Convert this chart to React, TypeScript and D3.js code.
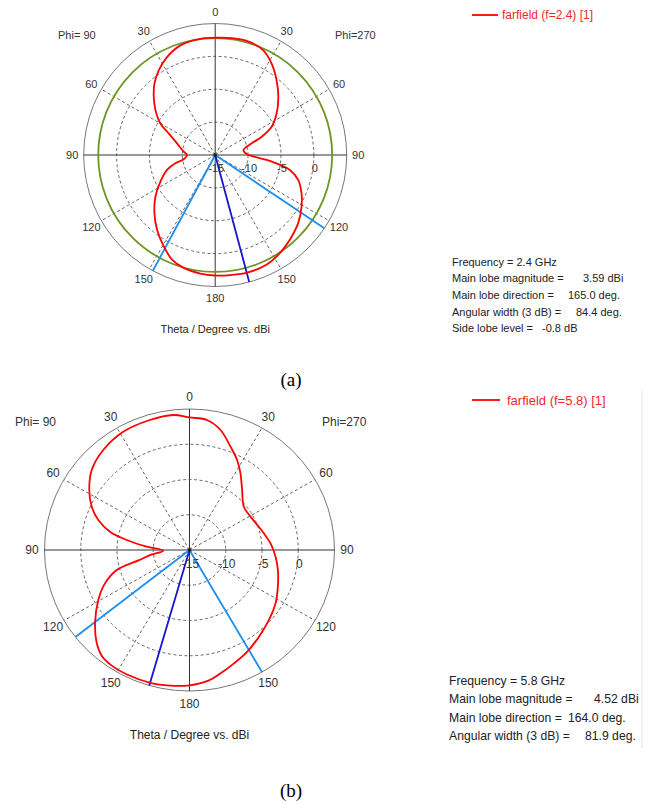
import React from "react";
import * as d3 from "d3";

const W = 655;
const H = 804;

// Polar angle in degrees, clockwise from top (0..180 = Phi=270 half, 180..360 = Phi=90 half)
// (a) farfield f = 2.4 GHz, gain in dBi
const anglesA = [0, 5.7, 15.4, 24.7, 31.7, 39.4, 47.4, 55.9, 63.4, 68.6, 72.3, 80, 88.2, 95.5, 98.7, 101.3, 106.7, 113.9, 120.8, 129.4, 138.6, 146.5, 154.8, 164.8, 172.9, 180, 187.2, 195.6, 202.4, 209.4, 217.9, 226.3, 235.2, 244.1, 252.8, 258.2, 262.2, 270, 276, 286.9, 294.9, 299.9, 306.9, 313.4, 319.6, 326.3, 333.8, 342.4, 352.7];
const gainA = [2.83, 2.91, 3.0, 2.52, 1.33, -0.29, -1.95, -3.72, -5.4, -7.4, -9.17, -10.64, -10.2, -7.14, -5.04, -3.41, -1.82, -0.64, 0.29, 1.33, 2.17, 2.86, 3.41, 3.55, 3.4, 3.33, 3.17, 2.83, 2.21, 0.94, -0.61, -2.21, -3.93, -5.74, -7.33, -8.81, -10.16, -10.71, -10.18, -8.93, -7.2, -5.38, -3.64, -2.14, -0.74, 0.48, 1.6, 2.49, 2.82];

// (b) farfield f = 5.8 GHz, gain in dBi
const anglesB = [0, 7.4, 14.0, 21.0, 27.1, 32.8, 40.4, 50.5, 60.6, 69.1, 77.0, 85.2, 94.6, 103.1, 113.2, 122.6, 132.3, 142.2, 151.2, 159.3, 166.4, 172, 180, 187.9, 196, 206, 213, 218.7, 224, 231.4, 240.6, 247.9, 254.2, 258.3, 262.6, 268.4, 274.5, 279.3, 283.3, 288.7, 294.5, 301.6, 310.1, 320, 331.4, 343.5, 353.3];
const gainB = [3.8, 3.6, 2.58, 0.74, -0.62, -2.04, -3.8, -5.3, -5.35, -5.0, -4.48, -3.78, -3.09, -2.48, -1.74, -0.92, -0.21, 0.6, 1.49, 2.23, 3.04, 3.72, 4.2, 4.42, 4.6, 4.65, 4.6, 4.3, 3.41, 1.67, -0.56, -2.42, -4.57, -7.9, -9.6, -11.38, -9.08, -6.22, -3.73, -1.72, -0.18, 1.23, 2.63, 3.51, 4.1, 4.23, 4.28];

// Radial axis (dBi)
const rMin = -15;
const rMax = 5;
const rTicks = [-15, -10, -5, 0];
const gridCircles = [-10, -5, 0];
const angleTicks = [0, 30, 60, 90, 120, 150, 180, 210, 240, 270, 300, 330];

// Main lobe / beamwidth marker directions (polar angle)
const mainDirA = 165;
const beamEdgesA = [123.9, 208.3];
const mainDirB = 196.1;
const beamEdgesB = [150, 231.9];
const sideLobeCircleA = 3.59 - 0.8;

const legendA = "farfield (f=2.4) [1]";
const legendB = "farfield (f=5.8) [1]";
const infoLabelsA = ["Frequency = 2.4 GHz", "Main lobe magnitude =", "Main lobe direction =", "Angular width (3 dB) =", "Side lobe level ="];
const infoValuesA = ["", "3.59 dBi", "165.0 deg.", "84.4 deg.", "-0.8 dB"];
const infoLabelsB = ["Frequency = 5.8 GHz", "Main lobe magnitude =", "Main lobe direction =", "Angular width (3 dB) ="];
const infoValuesB = ["", "4.52 dBi", "164.0 deg.", "81.9 deg."];

const FONT = "'Liberation Sans', Arial, sans-serif";

type PanelProps = {
  cx: number;
  cy: number;
  rx: number;
  ry: number;
  fs: number;
  labelOff: number;
  angles: number[];
  gains: number[];
  mainDir: number;
  edges: number[];
  sideLobe?: number;
  phiY: number;
  phiLeftX: number;
  phiRightX: number;
  rLabelDy: number;
  titleY: number;
};

function PolarPanel(p: PanelProps) {
  const r = d3.scaleLinear().domain([rMin, rMax]).range([0, 1]);
  const ang = d3.scaleLinear().domain([0, 360]).range([0, 2 * Math.PI]);
  const pt = (a: number, v: number): [number, number] => {
    const t = ang(a);
    const rr = r(v);
    return [p.cx + p.rx * rr * Math.sin(t), p.cy - p.ry * rr * Math.cos(t)];
  };
  const line = d3.line<[number, number]>().curve(d3.curveCatmullRomClosed.alpha(0.5));
  const pts = p.angles.map((a, i) => pt(a, p.gains[i]));
  const path = line(pts) || "";
  const outer = (a: number) => pt(a, rMax);
  const tickLabel = (a: number) => (a <= 180 ? a : 360 - a);

  return (
    <g>
      {/* dashed grid circles */}
      {gridCircles.map((v) => (
        <ellipse key={"c" + v} cx={p.cx} cy={p.cy} rx={p.rx * r(v)} ry={p.ry * r(v)} fill="none" stroke="#555" strokeWidth={0.9} strokeDasharray="3,2.5" />
      ))}
      {/* dashed spokes */}
      {angleTicks.filter((a) => a % 90 !== 0).map((a) => {
        const [x, y] = outer(a);
        return <line key={"s" + a} x1={p.cx} y1={p.cy} x2={x} y2={y} stroke="#555" strokeWidth={0.9} strokeDasharray="3,2.5" />;
      })}
      {/* outer circle */}
      <ellipse cx={p.cx} cy={p.cy} rx={p.rx} ry={p.ry} fill="none" stroke="#777" strokeWidth={1} />
      {/* axes */}
      <line x1={p.cx} y1={p.cy - p.ry} x2={p.cx} y2={p.cy + p.ry} stroke="#333" strokeWidth={1} />
      <line x1={p.cx - p.rx} y1={p.cy} x2={p.cx + p.rx} y2={p.cy} stroke="#333" strokeWidth={1} />
      {/* side lobe level circle */}
      {p.sideLobe !== undefined && (
        <ellipse cx={p.cx} cy={p.cy} rx={p.rx * r(p.sideLobe)} ry={p.ry * r(p.sideLobe)} fill="none" stroke="#6e9424" strokeWidth={1.8} />
      )}
      {/* beam edges */}
      {p.edges.map((a) => {
        const [x, y] = outer(a);
        return <line key={"e" + a} x1={p.cx} y1={p.cy} x2={x} y2={y} stroke="#1c8ff0" strokeWidth={1.8} />;
      })}
      {(() => {
        const [x, y] = outer(p.mainDir);
        return <line x1={p.cx} y1={p.cy} x2={x} y2={y} stroke="#1414d2" strokeWidth={1.8} />;
      })()}
      {/* pattern */}
      <path d={path} fill="none" stroke="#ff0000" strokeWidth={1.8} strokeLinejoin="round" />
      <circle cx={p.cx} cy={p.cy} r={1.8} fill="#222" />
      {/* angle labels */}
      {angleTicks.map((a) => {
        const t = ang(a);
        const x = p.cx + (p.rx + p.labelOff) * Math.sin(t);
        const y = p.cy - (p.ry + p.labelOff) * Math.cos(t);
        return (
          <text key={"l" + a} x={x} y={y} fontSize={p.fs} fontFamily={FONT} fill="#333" textAnchor="middle" dominantBaseline="central">
            {tickLabel(a)}
          </text>
        );
      })}
      {/* radial labels */}
      {rTicks.map((v) => (
        <text key={"r" + v} x={p.cx + p.rx * r(v) + 1} y={p.cy + p.rLabelDy} fontSize={p.fs} fontFamily={FONT} fill="#333" textAnchor="middle" dominantBaseline="central">
          {v}
        </text>
      ))}
      <text x={p.phiLeftX} y={p.phiY} fontSize={p.fs} fontFamily={FONT} fill="#333" dominantBaseline="central">Phi= 90</text>
      <text x={p.phiRightX} y={p.phiY} fontSize={p.fs} fontFamily={FONT} fill="#333" dominantBaseline="central">Phi=270</text>
      <text x={p.cx} y={p.titleY} fontSize={p.fs} fontFamily={FONT} fill="#222" textAnchor="middle" dominantBaseline="central">Theta / Degree vs. dBi</text>
    </g>
  );
}

function Info(props: { x: number; y0: number; dy: number; fs: number; labels: string[]; values: string[]; valueX: number[] }) {
  return (
    <g fontFamily={FONT} fontSize={props.fs} fill="#222">
      {props.labels.map((l, i) => (
        <g key={i}>
          <text x={props.x} y={props.y0 + i * props.dy} dominantBaseline="central">{l}</text>
          {props.values[i] && (
            <text x={props.valueX[i]} y={props.y0 + i * props.dy} dominantBaseline="central">{props.values[i]}</text>
          )}
        </g>
      ))}
    </g>
  );
}

export default function App() {
  return (
    <svg width={W} height={H} viewBox={`0 0 ${W} ${H}`} style={{ position: "absolute", left: 0, top: 0, background: "#fff" }}>
      <rect x={0} y={0} width={W} height={H} fill="#fff" />
      <PolarPanel cx={215.2} cy={155} rx={131.5} ry={131.5} fs={11} labelOff={11.5} angles={anglesA} gains={gainA}
        mainDir={mainDirA} edges={beamEdgesA} sideLobe={sideLobeCircleA} phiY={35} phiLeftX={58} phiRightX={335} rLabelDy={13} titleY={329} />
      <PolarPanel cx={189.5} cy={550} rx={145} ry={141} fs={12} labelOff={12.5} angles={anglesB} gains={gainB}
        mainDir={mainDirB} edges={beamEdgesB} phiY={421.5} phiLeftX={15} phiRightX={322} rLabelDy={14} titleY={735} />

      {/* legend (a) */}
      <line x1={472} y1={15} x2={498} y2={15} stroke="#ff0000" strokeWidth={1.8} />
      <text x={502} y={15} fontSize={12} fontFamily={FONT} fill="#f02828" dominantBaseline="central">{legendA}</text>
      {/* legend (b) */}
      <line x1={472} y1={400} x2={500} y2={400} stroke="#ff0000" strokeWidth={1.8} />
      <text x={507} y={400} fontSize={13} fontFamily={FONT} fill="#f02828" dominantBaseline="central">{legendB}</text>
      <line x1={642} y1={390} x2={642} y2={748} stroke="#e4e4e4" strokeWidth={1} />

      <Info x={452} y0={261.5} dy={16.7} fs={11} labels={infoLabelsA} values={infoValuesA} valueX={[0, 583, 568, 576, 542]} />
      <Info x={449} y0={681} dy={18.4} fs={12.2} labels={infoLabelsB} values={infoValuesB} valueX={[0, 594, 568, 585]} />

      <text x={291} y={379} fontSize={19} fontFamily="'Liberation Serif', 'Times New Roman', serif" fill="#000" textAnchor="middle" dominantBaseline="central">(a)</text>
      <text x={291} y={790} fontSize={19} fontFamily="'Liberation Serif', 'Times New Roman', serif" fill="#000" textAnchor="middle" dominantBaseline="central">(b)</text>
    </svg>
  );
}
